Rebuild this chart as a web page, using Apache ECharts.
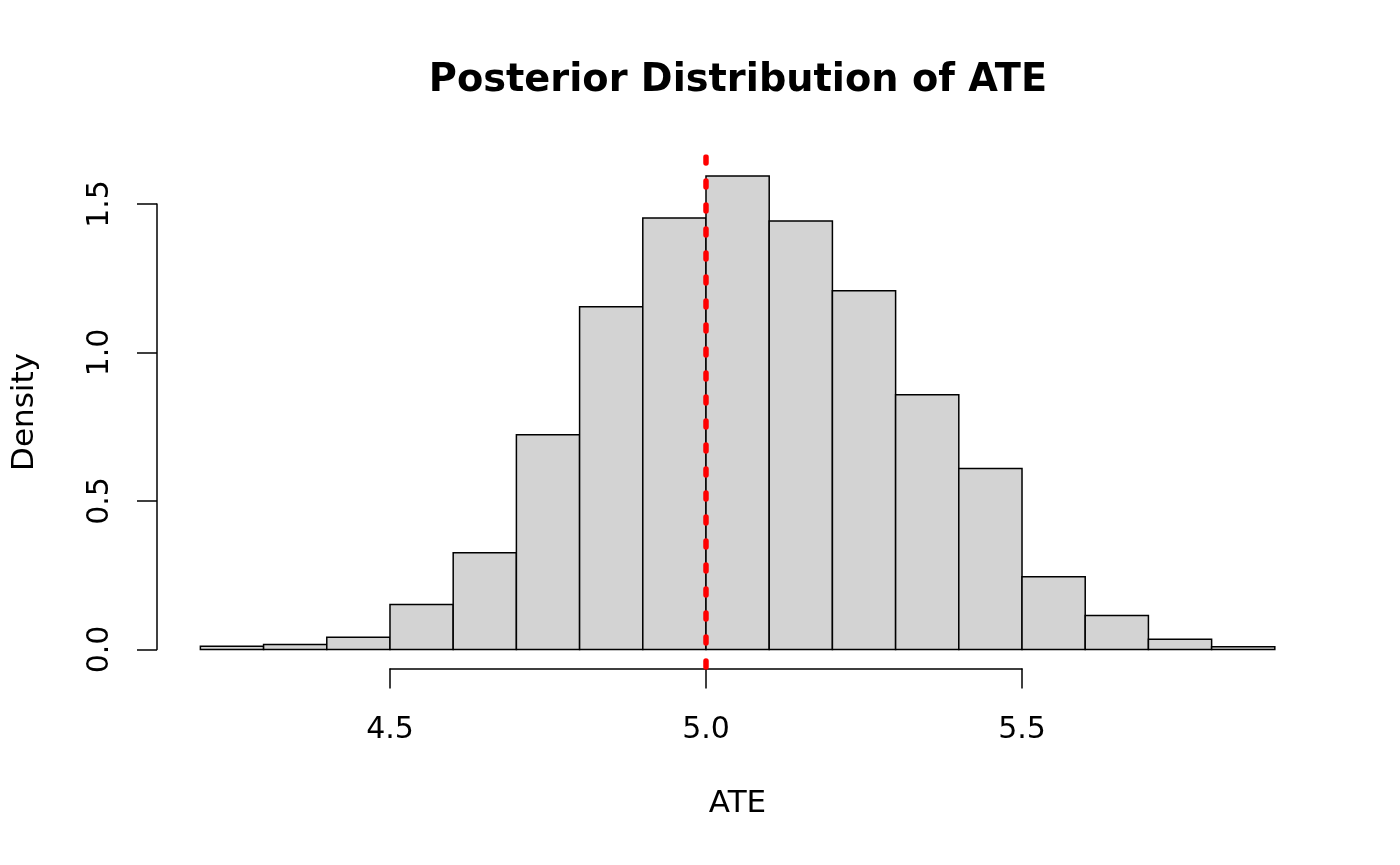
<!DOCTYPE html>
<html><head><meta charset="utf-8">
<script src="https://cdn.jsdelivr.net/npm/echarts@6/dist/echarts.min.js"></script>
<style>html,body{margin:0;padding:0;background:#fff}#c{width:1400px;height:865px}</style>
</head><body><div id="c"></div>
<script>
var binStarts = [4.2,4.3,4.4,4.5,4.6,4.7,4.8,4.9,5.0,5.1,5.2,5.3,5.4,5.5,5.6,5.7,5.8];
var binWidth = 0.1;
var densities = [0.011,0.017,0.041,0.151,0.326,0.723,1.154,1.453,1.594,1.443,1.208,0.858,0.609,0.245,0.114,0.034,0.009];
var xTicks = [4.5,5.0,5.5];
var yTicks = [0,0.5,1.0,1.5];
var ateMean = 5.0;
var titleText = 'Posterior Distribution of ATE';
var xLabel = 'ATE';
var yLabel = 'Density';

var xMin = 4.2, xMax = 5.9, yMax = Math.max.apply(null, densities);
var xPad = (xMax - xMin) * 0.04, yPad = yMax * 0.04;
var barData = binStarts.map(function(s, i){ return [s, s + binWidth, densities[i]]; });

var font = 'DejaVu Sans';
var chart = echarts.init(document.getElementById('c'), null, {renderer:'canvas'});
chart.setOption({
  animation:false,
  backgroundColor:'#fff',
  grid:[
    {left:157.4, top:157.1, width:1160.4, height:511.3},
    {left:390, top:667.5, width:632, height:1},
    {left:157, top:204, width:1, height:445.5}
  ],
  xAxis:[
    {gridIndex:0, type:'value', min:xMin - xPad, max:xMax + xPad, show:false},
    {gridIndex:1, type:'value', min:xTicks[0], max:xTicks[xTicks.length-1], interval:0.5, position:'bottom',
     axisLine:{show:true, lineStyle:{color:'#000', width:1.5}},
     axisTick:{show:true, length:20, lineStyle:{color:'#000', width:1.5}},
     axisLabel:{show:true, margin:47, color:'#000', fontFamily:font, fontSize:30,
       formatter:function(v){ return v.toFixed(1); }},
     splitLine:{show:false}},
    {gridIndex:2, type:'value', show:false}
  ],
  yAxis:[
    {gridIndex:0, type:'value', min:-yPad, max:yMax + yPad, show:false},
    {gridIndex:1, type:'value', show:false},
    {gridIndex:2, type:'value', min:yTicks[0], max:yTicks[yTicks.length-1], interval:0.5, position:'left',
     axisLine:{show:true, lineStyle:{color:'#000', width:1.5}},
     axisTick:{show:true, length:20, lineStyle:{color:'#000', width:1.5}},
     axisLabel:{show:true, margin:42, rotate:90, color:'#000', fontFamily:font, fontSize:30,
       formatter:function(v){ return v.toFixed(1); }},
     splitLine:{show:false}}
  ],
  series:[
    {type:'custom', xAxisIndex:0, yAxisIndex:0, data:barData, z:2,
     renderItem:function(params, api){
       var p0 = api.coord([api.value(0), api.value(2)]);
       var p1 = api.coord([api.value(1), 0]);
       return {type:'rect', shape:{x:p0[0], y:p0[1], width:p1[0]-p0[0], height:p1[1]-p0[1]},
         style:{fill:'#D3D3D3', stroke:'#000', lineWidth:1.5}};
     }},
    {type:'line', xAxisIndex:0, yAxisIndex:0, z:5, symbol:'none', silent:true,
     data:[[ateMean, yMax + yPad],[ateMean, -yPad]],
     lineStyle:{color:'#FF0000', width:5.5, type:[6,18], cap:'round'}}
  ],
  graphic:[
    {type:'text', x:738, y:81, style:{text:titleText, font:'bold 38.3px "DejaVu Sans"', fill:'#000', textAlign:'center', textVerticalAlign:'middle'}},
    {type:'text', x:737.5, y:804, style:{text:xLabel, font:'31px "DejaVu Sans"', fill:'#000', textAlign:'center', textVerticalAlign:'middle'}},
    {type:'text', x:25, y:412, rotation:Math.PI/2, style:{text:yLabel, font:'31px "DejaVu Sans"', fill:'#000', textAlign:'center', textVerticalAlign:'middle'}}
  ]
});
</script></body></html>
